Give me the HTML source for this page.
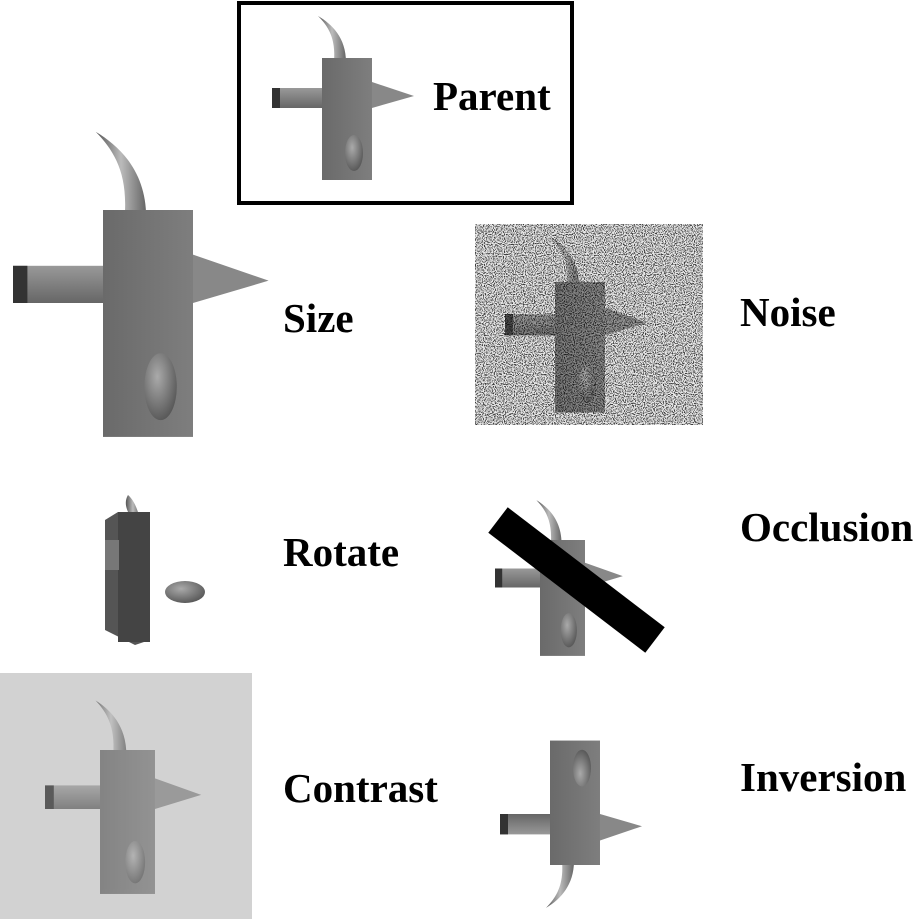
<!DOCTYPE html>
<html><head><meta charset="utf-8">
<style>
html,body{margin:0;padding:0;background:#fff;}
svg{display:block;}
text{font-family:"Liberation Serif",serif;font-weight:bold;font-size:41px;fill:#000;}
</style></head>
<body>
<svg width="918" height="919" viewBox="0 0 918 919" xmlns="http://www.w3.org/2000/svg">
<defs>
  <linearGradient id="body" x1="0" x2="1" y1="0" y2="0">
    <stop offset="0" stop-color="#6a6a6a"/><stop offset="1" stop-color="#7e7e7e"/>
  </linearGradient>
  <linearGradient id="horn" x1="0" x2="1">
    <stop offset="0" stop-color="#555"/><stop offset="0.5" stop-color="#bbb"/><stop offset="1" stop-color="#666"/>
  </linearGradient>
  <linearGradient id="arm" x1="0" x2="0" y1="0" y2="1">
    <stop offset="0" stop-color="#999"/><stop offset="1" stop-color="#666"/>
  </linearGradient>
  <radialGradient id="oval" cx="0.4" cy="0.35" r="0.7">
    <stop offset="0" stop-color="#aaa"/><stop offset="1" stop-color="#555"/>
  </radialGradient>
  <g id="obj">
    <path d="M12,4 C14,-20 6,-32 -4,-42 C10,-34 24,-20 24,4 Z" fill="url(#horn)"/>
    <rect x="-50" y="30" width="50" height="20" fill="url(#arm)"/>
    <rect x="-50" y="30" width="8" height="20" fill="#333"/>
    <polygon points="50,24 92,38 50,50" fill="#888"/>
    <rect x="0" y="0" width="50" height="122" fill="url(#body)"/>
    <ellipse cx="32" cy="95" rx="9" ry="18" fill="url(#oval)"/>
  </g>
  <filter id="noise" x="0" y="0" width="100%" height="100%">
    <feTurbulence type="fractalNoise" baseFrequency="0.9" numOctaves="1" seed="3"/>
    <feColorMatrix type="matrix" values="0 0 0 0 0  0 0 0 0 0  0 0 0 0 0  0 0 0 -6 3.2"/>
  </filter>
</defs>

<rect x="239" y="3" width="333" height="200" fill="none" stroke="#000" stroke-width="4"/>
<use href="#obj" transform="translate(322,58)"/>
<text x="433" y="110">Parent</text>

<use href="#obj" transform="translate(103,210) scale(1.8,1.86)"/>
<text x="283" y="332">Size</text>

<rect x="475" y="224" width="228" height="201" fill="#e8e8e8"/>
<use href="#obj" transform="translate(555,282) scale(1,1.07)" opacity="0.85"/>
<rect x="475" y="224" width="228" height="201" fill="#000" filter="url(#noise)" opacity="0.75"/>
<text x="740" y="326">Noise</text>

<path d="M128,495 C122,505 130,515 132,520 L140,520 C138,510 134,500 128,495 Z" fill="url(#horn)"/>
<polygon points="105,520 118,512 150,512 150,640 135,645 105,630" fill="#555"/>
<rect x="118" y="512" width="32" height="130" fill="#444"/>
<rect x="105" y="540" width="14" height="30" fill="#777"/>
<ellipse cx="185" cy="592" rx="20" ry="11" fill="url(#oval)"/>
<text x="283" y="566">Rotate</text>

<use href="#obj" transform="translate(540,540) scale(0.9,0.95)"/>
<line x1="498" y1="520" x2="655" y2="640" stroke="#000" stroke-width="32"/>
<text x="740" y="541">Occlusion</text>

<rect x="0" y="673" width="252" height="246" fill="#d2d2d2"/>
<use href="#obj" transform="translate(100,750) scale(1.1,1.18)" opacity="0.75"/>
<text x="283" y="802">Contrast</text>

<use href="#obj" transform="translate(550,865) scale(1,-1.02)"/>
<text x="740" y="791">Inversion</text>
</svg>
</body></html>
